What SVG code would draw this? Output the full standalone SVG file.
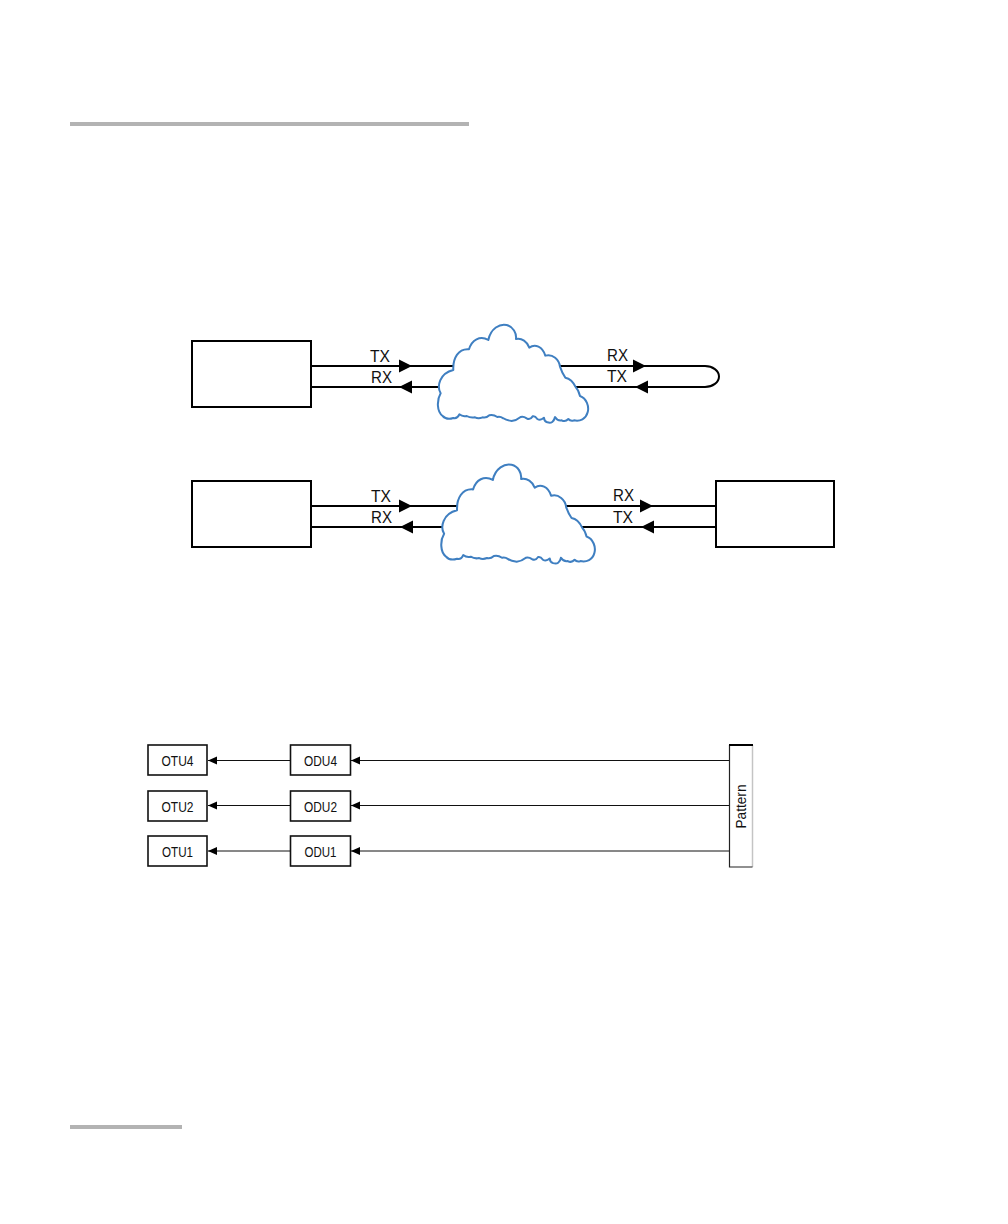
<svg xmlns="http://www.w3.org/2000/svg" width="1008" height="1224" viewBox="0 0 1008 1224">
<style>
text{font-family:"Liberation Sans",Arial,sans-serif;fill:#111}
.lbl{font-size:16px}
.sm{font-size:15px;text-anchor:middle}
.box{fill:#fff;stroke:#000;stroke-width:2}
.sbox{fill:#fff;stroke:#111;stroke-width:1.6}
.w{fill:none;stroke:#000;stroke-width:2}
.t{fill:none;stroke:#111;stroke-width:1}
.cloud{fill:#fff;stroke:#3f7fc1;stroke-width:6;stroke-linejoin:round}
.rule{fill:#b3b3b3}
</style>
<defs>
<marker id="big" markerUnits="userSpaceOnUse" markerWidth="14" markerHeight="14" refX="13" refY="7" orient="auto"><polygon points="0,0.5 13,7 0,13.5" fill="#000"/></marker>
<marker id="small" markerUnits="userSpaceOnUse" markerWidth="10" markerHeight="10" refX="9" refY="5" orient="auto"><polygon points="0,1 9,5 0,9" fill="#000"/></marker>
<path id="cloudShape" d="M62,235 C50,215 58,175 100,165 C98,130 115,100 147,103 C155,75 180,60 205,75 C212,40 240,25 260,30 C280,35 290,55 288,72 C305,68 322,80 328,98 C345,85 368,95 376,122 C398,115 418,135 420,155 C425,170 430,180 436,188 C450,190 462,205 468,218 C475,225 478,235 480,243 C500,250 508,275 503,292 C498,312 480,320 462,316 Q452,320 445,312 Q436,322 425,316 Q412,318 405,306 Q400,328 382,322 Q372,318 372,308 Q362,318 352,312 Q345,302 338,304 Q330,316 320,310 Q310,303 302,306 Q290,316 275,318 Q258,316 250,310 Q240,303 232,306 Q220,298 208,301 Q198,310 188,307 Q175,312 165,307 Q152,310 140,303 Q128,306 118,298 Q112,312 100,309 Q80,316 68,303 C50,290 50,255 62,235 Z"/>
</defs>
<g id="page-rules">
<rect class="rule" x="70" y="122" width="399" height="4"/>
<rect class="rule" x="70" y="1125" width="112" height="4"/>
</g>
<g id="connectors">
<path class="w" d="M311,366H412" marker-end="url(#big)"/><path class="w" d="M412,366H460"/>
<path class="w" d="M445,387H399" marker-end="url(#big)"/><path class="w" d="M399,387H311"/>
<path class="w" d="M555,366H646" marker-end="url(#big)"/><path class="w" d="M646,366H705A14,10.5 0 0 1 705,387H635" marker-end="url(#big)"/><path class="w" d="M635,387H570"/>
<path class="w" d="M311,506H412" marker-end="url(#big)"/><path class="w" d="M412,506H460"/>
<path class="w" d="M445,527H400" marker-end="url(#big)"/><path class="w" d="M400,527H311"/>
<path class="w" d="M560,506H653" marker-end="url(#big)"/><path class="w" d="M653,506H716"/>
<path class="w" d="M716,527H641" marker-end="url(#big)"/><path class="w" d="M641,527H575"/>
<path class="t" d="M290,760.500H208" marker-end="url(#small)"/>
<path class="t" d="M290,805.500H208" marker-end="url(#small)"/>
<path class="t" d="M290,851H208" marker-end="url(#small)"/>
<path class="t" d="M729,760.500H351" marker-end="url(#small)"/>
<path class="t" d="M729,805.500H351" marker-end="url(#small)"/>
<path class="t" d="M729,851H351" marker-end="url(#small)"/>
</g>
<g id="labels">
<text class="lbl" x="370" y="362" textLength="20" lengthAdjust="spacingAndGlyphs">TX</text>
<text class="lbl" x="371" y="383" textLength="21" lengthAdjust="spacingAndGlyphs">RX</text>
<text class="lbl" x="607" y="361" textLength="21" lengthAdjust="spacingAndGlyphs">RX</text>
<text class="lbl" x="607" y="382" textLength="20" lengthAdjust="spacingAndGlyphs">TX</text>
<text class="lbl" x="371" y="502" textLength="20" lengthAdjust="spacingAndGlyphs">TX</text>
<text class="lbl" x="371" y="523" textLength="21" lengthAdjust="spacingAndGlyphs">RX</text>
<text class="lbl" x="613" y="501" textLength="21" lengthAdjust="spacingAndGlyphs">RX</text>
<text class="lbl" x="613" y="523" textLength="20" lengthAdjust="spacingAndGlyphs">TX</text>
</g>
<g id="node-a1"><rect class="box" x="192" y="341" width="119" height="66"/></g>
<g id="cloud-1"><use href="#cloudShape" class="cloud" transform="translate(420,315) scale(.3333)"/></g>
<g id="node-a2"><rect class="box" x="192" y="481" width="119" height="66"/></g>
<g id="cloud-2"><use href="#cloudShape" class="cloud" transform="translate(423,454.700) scale(.3407,.3367)"/></g>
<g id="node-b2"><rect class="box" x="716" y="481" width="118" height="66"/></g>
<g id="otu4"><rect class="sbox" x="148" y="745" width="59" height="30"/><text class="sm" x="177.500" y="766" textLength="32" lengthAdjust="spacingAndGlyphs">OTU4</text></g>
<g id="otu2"><rect class="sbox" x="148" y="791" width="59" height="30"/><text class="sm" x="177.500" y="812" textLength="32" lengthAdjust="spacingAndGlyphs">OTU2</text></g>
<g id="otu1"><rect class="sbox" x="148" y="836" width="59" height="30"/><text class="sm" x="177.500" y="857" textLength="31" lengthAdjust="spacingAndGlyphs">OTU1</text></g>
<g id="odu4"><rect class="sbox" x="290.500" y="745" width="60" height="30"/><text class="sm" x="320.500" y="766" textLength="33" lengthAdjust="spacingAndGlyphs">ODU4</text></g>
<g id="odu2"><rect class="sbox" x="290.500" y="791" width="60" height="30"/><text class="sm" x="320.500" y="812" textLength="33" lengthAdjust="spacingAndGlyphs">ODU2</text></g>
<g id="odu1"><rect class="sbox" x="290.500" y="836" width="60" height="30"/><text class="sm" x="320.500" y="857" textLength="32" lengthAdjust="spacingAndGlyphs">ODU1</text></g>
<g id="pattern">
<rect x="729.500" y="745" width="23" height="122" fill="#fff"/>
<path d="M752.500,745V867" fill="none" stroke="#c4c4c4" stroke-width="1.500"/>
<path d="M752.500,867H729.500V745" fill="none" stroke="#222" stroke-width="1.200"/>
<path d="M729,745H753" fill="none" stroke="#000" stroke-width="2"/>
<text x="746" y="806.500" font-size="15.500" text-anchor="middle" textLength="44" lengthAdjust="spacingAndGlyphs" transform="rotate(-90 746 806.500)">Pattern</text>
</g>
</svg>
